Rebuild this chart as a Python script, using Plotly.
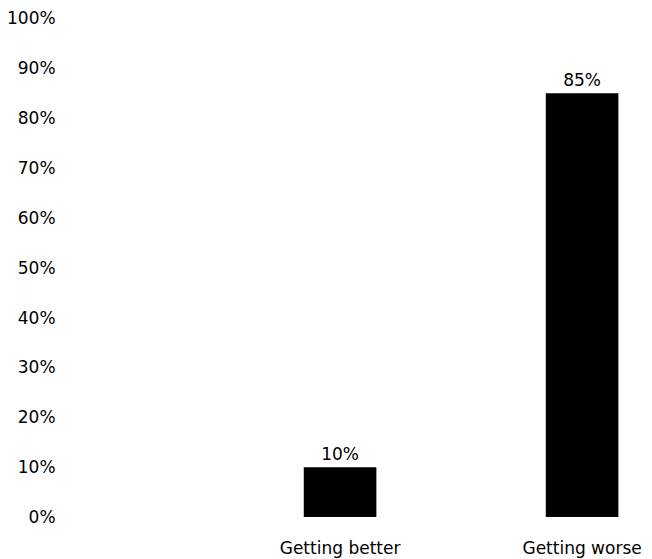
import plotly.graph_objects as go

# survey answers and their shares (percent)
categories = ["Getting better", "Getting worse"]
values = [10, 85]
y_ticks = [0, 10, 20, 30, 40, 50, 60, 70, 80, 90, 100]

FONT = "DejaVu Sans"

fig = go.Figure()
fig.add_trace(go.Bar(
    x=categories,
    y=values,
    width=0.3,
    marker=dict(color="black", line=dict(width=0)),
    text=[f"{v}%" for v in values],
    textposition="outside",
    textfont=dict(family=FONT, size=17, color="black"),
    cliponaxis=False,
))

# the page body adds an 8px offset, so margins are shifted to compensate
fig.update_layout(
    width=652, height=559,
    margin=dict(l=62, r=0, t=10, b=50),
    paper_bgcolor="white",
    plot_bgcolor="white",
    showlegend=False,
    font=dict(family=FONT, size=17, color="black"),
)
fig.update_xaxes(
    type="category",
    range=[-1.116, 1.322],
    showgrid=False, showline=False, zeroline=False,
    ticks="outside", ticklen=16, tickcolor="white",
    tickfont=dict(family=FONT, size=17),
    automargin=False,
)
# a hair above 100 so the top tick label is not dropped
fig.update_yaxes(
    range=[0, 100.1],
    tickvals=y_ticks,
    ticktext=[f"{t}%" for t in y_ticks],
    showgrid=False, showline=False, zeroline=False,
    ticks="outside", ticklen=10, tickcolor="white",
    tickfont=dict(family=FONT, size=17),
    automargin=False,
)

fig.write_html("out.html")
